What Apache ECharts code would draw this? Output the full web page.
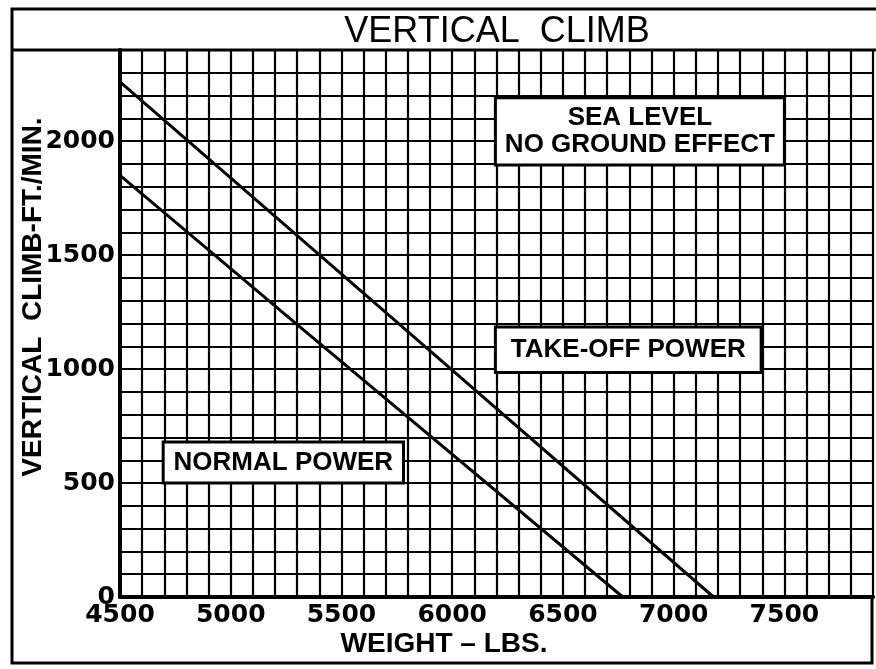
<!DOCTYPE html>
<html>
<head>
<meta charset="utf-8">
<script src="https://cdn.jsdelivr.net/npm/echarts@6/dist/echarts.min.js"></script>
<style>
  html, body { margin: 0; padding: 0; background: #fff; }
  #chart { width: 876px; height: 669px; }
</style>
</head>
<body>
<div id="chart"></div>
<script>
// values
const weightTakeOff = [4500, 6000, 7180]
const climbTakeOff = [2260, 995, 0]
const weightNormal = [4500, 5300, 6770]
const climbNormal = [1850, 1195, 0]

const weightTicks = [4500, 5000, 5500, 6000, 6500, 7000, 7500]
const climbTicks = [0, 500, 1000, 1500, 2000]

// note boxes: [x0, y0, x1, y1] in data units, then text lines
const noteSea = [6195, 2190, 7500, 1895]
const noteSeaText = ['SEA LEVEL', 'NO GROUND EFFECT']
const noteTakeOff = [6195, 1185, 7395, 985]
const noteTakeOffText = ['TAKE-OFF POWER']
const noteNormal = [4695, 680, 5780, 500]
const noteNormalText = ['NORMAL POWER']

const INK = '#000'
const LABEL_FONT = 'Liberation Sans'

const chart = echarts.init(document.getElementById('chart'))

function toPts(xs, ys) {
  return xs.map((x, i) => [x, ys[i]])
}

const axisCommon = {
  type: 'value',
  interval: 100,
  axisLine: {show: true, onZero: false, lineStyle: {color: INK, width: 4}},
  axisTick: {show: false},
  splitLine: {show: true, lineStyle: {color: INK, width: 2.2}},
  axisLabel: {
    color: INK,
    fontFamily: 'DejaVu Sans',
    fontWeight: 'bold',
    fontSize: 25,
  },
}

chart.setOption({
  backgroundColor: '#fff',
  animation: false,
  grid: {left: 120, top: 50, width: 759, height: 547},
  xAxis: Object.assign({}, axisCommon, {
    min: 4500,
    max: 7900,
    axisLabel: Object.assign({}, axisCommon.axisLabel, {
      margin: 6,
      formatter: v => weightTicks.includes(v) ? String(v) : '',
    }),
  }),
  yAxis: Object.assign({}, axisCommon, {
    min: 0,
    max: 2400,
    axisLabel: Object.assign({}, axisCommon.axisLabel, {
      margin: 5,
      formatter: v => climbTicks.includes(v) ? String(v) : '',
    }),
  }),
  series: [
    {
      name: 'Take-off power',
      type: 'line',
      data: toPts(weightTakeOff, climbTakeOff),
      showSymbol: false,
      lineStyle: {color: INK, width: 3},
      z: 5,
    },
    {
      name: 'Normal power',
      type: 'line',
      data: toPts(weightNormal, climbNormal),
      showSymbol: false,
      lineStyle: {color: INK, width: 3},
      z: 5,
    },
  ],
})

// 注释框
function noteBox(box, lines, fontSize, lineGap) {
  const p0 = chart.convertToPixel({gridIndex: 0}, [box[0], box[1]])
  const p1 = chart.convertToPixel({gridIndex: 0}, [box[2], box[3]])
  const cx = (p0[0] + p1[0]) / 2
  const cy = (p0[1] + p1[1]) / 2
  const els = [{
    type: 'rect',
    shape: {x: p0[0], y: p0[1], width: p1[0] - p0[0], height: p1[1] - p0[1]},
    style: {fill: '#fff', stroke: INK, lineWidth: 3},
    z: 100,
  }]
  lines.forEach((t, i) => {
    els.push({
      type: 'text',
      x: cx,
      y: cy + (i - (lines.length - 1) / 2) * lineGap,
      style: {
        text: t, fill: INK, align: 'center', verticalAlign: 'middle',
        font: 'bold ' + fontSize + 'px "' + LABEL_FONT + '"',
      },
      z: 101,
    })
  })
  return els
}

const W = 876
const graphics = [
  // outer frame
  {
    type: 'polyline',
    shape: {points: [[872, 597], [872, 663], [12, 663], [12, 9], [W, 9]]},
    style: {stroke: INK, lineWidth: 3, fill: null},
    z: 90,
  },
  {
    type: 'line',
    shape: {x1: 12, y1: 50, x2: W, y2: 50},
    style: {stroke: INK, lineWidth: 3},
    z: 90,
  },
  {
    type: 'text',
    x: 497, y: 32,
    style: {
      text: 'VERTICAL  CLIMB', fill: INK, align: 'center', verticalAlign: 'middle',
      font: '36px "' + LABEL_FONT + '"',
    },
    z: 101,
  },
  {
    type: 'text',
    x: 444, y: 644,
    style: {
      text: 'WEIGHT – LBS.', fill: INK, align: 'center', verticalAlign: 'middle',
      font: 'bold 28px "' + LABEL_FONT + '"',
    },
    z: 101,
  },
  {
    type: 'text',
    x: 33, y: 297,
    rotation: Math.PI / 2,
    style: {
      text: 'VERTICAL  CLIMB-FT./MIN.', fill: INK, align: 'center', verticalAlign: 'middle',
      font: 'bold 28px "' + LABEL_FONT + '"',
    },
    z: 101,
  },
]
  .concat(noteBox(noteSea, noteSeaText, 26, 27))
  .concat(noteBox(noteTakeOff, noteTakeOffText, 26, 0))
  .concat(noteBox(noteNormal, noteNormalText, 26, 0))

chart.setOption({graphic: {elements: graphics}})
</script>
</body>
</html>
